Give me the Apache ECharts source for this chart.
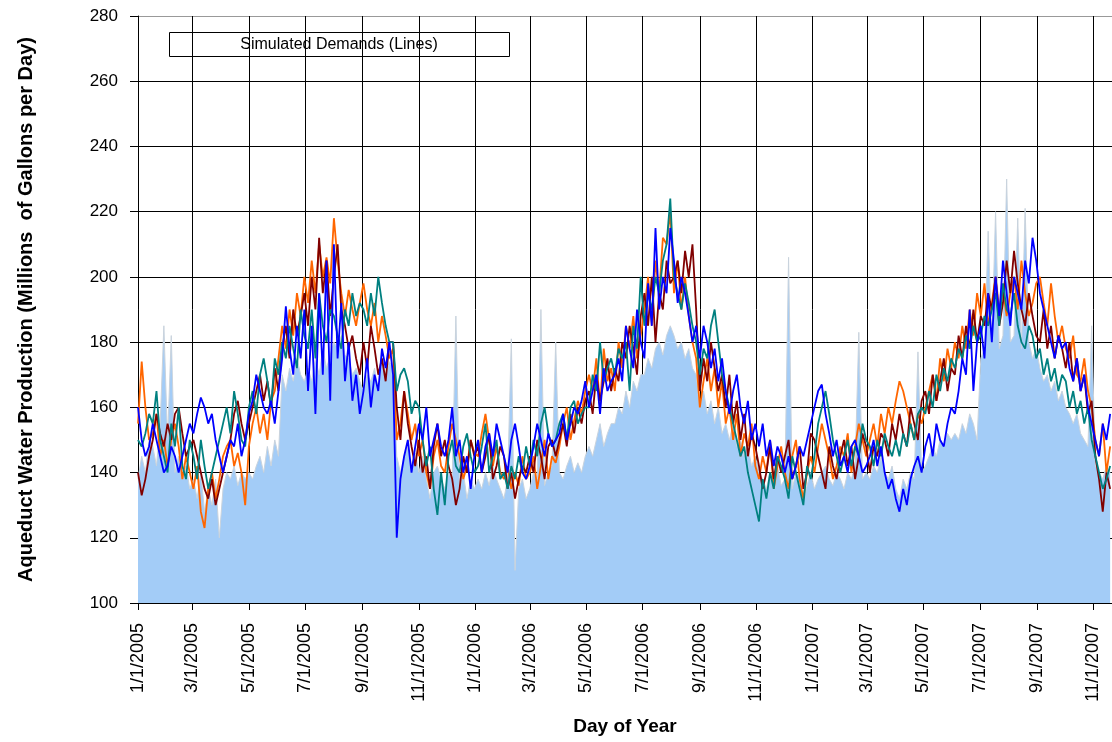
<!DOCTYPE html>
<html><head><meta charset="utf-8">
<script src="https://cdn.jsdelivr.net/npm/echarts@6/dist/echarts.min.js"></script>
<style>html,body{margin:0;padding:0;background:#fff}#c{width:1112px;height:742px}</style>
</head><body><div id="c"></div>
<script>
// daily category axis 1/1/2005 .. 11/21/2007; series sampled every 4 days
const dayCount = 1055;
const step = 4;
const tickLabels = ['1/1/2005','3/1/2005','5/1/2005','7/1/2005','9/1/2005','11/1/2005',
  '1/1/2006','3/1/2006','5/1/2006','7/1/2006','9/1/2006','11/1/2006',
  '1/1/2007','3/1/2007','5/1/2007','7/1/2007','9/1/2007','11/1/2007'];

// Actual production (area)
const actual = [
138,145,140,150,148,142,155,185,
150,182,140,145,138,142,135,
138,132,140,128,135,130,138,120,
135,140,138,142,136,140,138,
140,138,142,145,140,148,142,150,
145,170,165,172,168,175,170,168,
172,168,175,170,178,172,176,
180,178,182,176,175,170,172,168,
165,170,168,172,165,175,170,174,
172,145,140,145,148,142,146,
140,145,138,132,140,142,138,135,
140,138,188,135,140,132,138,135,
138,135,140,136,142,138,135,
132,138,181,110,135,138,132,
135,140,138,190,136,140,142,180,
140,138,142,145,140,143,140,145,
148,145,150,155,148,152,155,
155,160,158,165,160,168,165,170,
170,175,172,178,180,176,182,185,
182,178,180,175,178,172,170,
160,165,158,162,155,160,152,155,
150,155,148,150,145,148,142,145,
140,138,135,140,138,142,136,
138,206,135,140,138,132,136,140,
135,138,140,142,138,136,140,138,
135,140,138,142,183,138,140,
138,142,140,145,140,138,142,
135,132,138,135,140,138,177,140,
142,145,148,145,150,148,152,150,
152,150,155,152,158,155,150,
175,178,214,180,220,178,182,230,
180,182,218,178,221,180,175,178,
172,168,170,165,168,162,165,
160,158,155,158,152,150,148,185,
142,140,138,142,140];

// Simulated demands (lines)
const simOrange = [
155,174,160,150,152,158,145,150,
142,150,155,148,138,145,140,
135,142,128,123,135,140,132,138,
145,148,150,142,146,140,130,
148,155,160,152,158,150,162,165,
175,185,178,190,182,195,188,200,
192,205,195,210,200,206,198,
218,205,195,188,196,190,185,192,
198,190,185,192,180,188,182,175,
178,150,155,165,158,150,155,
145,150,140,135,145,150,142,140,
148,155,150,145,138,142,150,146,
145,152,158,150,142,148,140,
138,142,135,140,136,145,138,
140,145,135,142,150,138,145,143,
148,155,160,150,156,162,158,165,
170,165,175,160,178,168,172,
165,180,172,185,178,188,175,182,
190,200,185,205,195,212,210,220,
195,205,190,200,188,180,175,
160,168,175,165,172,160,168,155,
160,150,158,145,152,148,155,142,
138,145,140,150,135,142,148,
140,135,145,150,138,132,140,145,
140,148,155,150,145,138,142,148,
145,152,140,148,155,150,145,
150,155,148,158,152,160,155,
162,168,165,160,155,150,158,155,
160,165,170,162,175,168,178,172,
180,175,185,178,190,182,195,
188,198,185,192,200,190,196,188,
195,200,190,205,195,188,192,198,
200,192,185,198,188,180,185,
178,175,182,170,168,175,165,160,
150,145,155,140,148];

const simDarkRed = [
140,133,138,145,150,158,152,148,
155,150,158,160,152,145,148,
150,145,140,135,132,138,130,135,
140,145,150,158,162,155,150,
155,160,165,170,162,168,160,172,
165,178,185,175,190,182,188,195,
185,200,190,212,195,205,188,
200,210,190,185,178,182,175,170,
180,172,185,178,170,175,168,180,
180,160,150,165,155,148,142,
150,140,145,135,148,155,145,150,
142,138,130,135,145,140,150,145,
148,140,145,152,138,142,148,
145,135,140,132,138,142,140,
145,140,150,145,138,148,150,145,
150,155,148,158,152,160,155,162,
165,158,170,162,168,175,165,
172,168,180,175,185,178,170,188,
195,185,200,180,195,190,205,198,
200,205,195,208,200,210,190,
165,175,168,180,172,165,170,160,
170,155,162,150,158,145,152,148,
142,135,140,148,138,145,140,
145,150,138,142,148,135,140,152,
150,145,140,135,148,142,138,145,
150,142,148,138,145,152,148,
140,148,145,152,150,145,155,
150,158,152,148,160,155,150,162,
165,158,170,162,168,175,165,172,
170,182,175,185,178,190,180,
188,185,195,190,200,185,192,205,
195,208,198,190,185,195,188,182,
180,190,178,185,175,182,178,
172,180,168,175,165,170,158,162,
145,138,128,140,135];

const simTeal = [
150,148,152,158,155,165,150,145,
140,155,148,160,142,138,150,
145,138,150,142,135,140,145,150,
155,160,152,165,158,150,148,
160,165,158,170,175,168,160,175,
170,180,175,185,178,172,190,182,
178,190,175,195,185,180,190,
188,182,178,190,185,195,188,192,
190,185,195,188,200,192,185,180,
180,165,170,172,168,158,162,
160,150,142,148,135,127,140,130,
145,150,142,140,148,152,145,140,
142,148,155,140,145,150,138,
140,135,142,138,145,140,148,
142,150,145,155,160,152,148,150,
155,158,150,160,162,155,158,160,
160,170,165,180,168,172,175,
170,178,175,180,165,185,178,200,
185,195,190,200,195,205,210,224,
200,195,190,198,192,185,180,
170,178,175,185,190,180,170,165,
160,155,150,145,148,140,135,130,
125,138,132,140,135,145,142,
138,132,145,140,135,130,142,138,
145,155,160,165,158,150,145,140,
145,150,142,148,145,155,150,
148,142,150,145,152,148,145,
150,145,152,148,155,150,158,160,
158,165,160,170,165,172,168,175,
172,178,175,182,178,185,180,
182,188,185,190,195,185,198,190,
188,195,185,180,178,185,182,175,
178,170,175,168,172,165,170,
168,160,165,158,162,155,160,150,
145,140,135,138,142];

const simBlue = [
160,150,145,148,155,150,145,140,
142,148,145,140,145,150,155,
152,158,163,160,155,158,150,145,
140,145,150,148,155,145,150,
158,162,170,165,160,158,162,155,
165,175,191,178,170,185,175,190,
165,185,158,195,170,205,162,
210,175,192,168,180,162,170,158,
165,175,160,170,165,178,172,180,
170,120,138,145,150,140,148,
155,150,160,145,150,155,148,145,
150,160,145,150,140,145,135,145,
150,140,148,152,145,155,150,
145,140,150,155,148,140,138,
142,148,155,150,145,152,148,150,
152,158,150,155,160,158,162,168,
160,165,170,158,172,165,168,
170,175,168,185,178,172,190,180,
175,198,185,215,190,200,195,215,
205,192,200,195,188,180,185,
175,185,180,172,178,168,175,165,
158,165,170,160,155,162,150,155,
148,155,145,150,142,148,145,
140,145,138,142,148,145,150,155,
160,165,167,158,152,145,150,142,
145,140,148,150,145,140,142,
145,150,142,148,140,135,138,
132,128,135,130,138,142,145,140,
148,152,145,155,150,148,155,160,
158,165,175,170,190,165,180,
185,175,195,180,200,188,205,195,
185,200,195,190,205,198,212,205,
195,190,185,180,175,182,178,
180,172,168,175,165,170,160,155,
150,145,155,150,158];

const categories = [];
for (let d = 0; d < dayCount; d++) {
  const dt = new Date(Date.UTC(2005, 0, 1 + d));
  categories.push((dt.getUTCMonth() + 1) + '/' + dt.getUTCDate() + '/' + dt.getUTCFullYear());
}
const tickSet = new Set(tickLabels);
const isTick = (idx, val) => tickSet.has(val);
const toPairs = arr => arr.map((v, i) => [categories[i * step], v]);

const FONT = '"Liberation Sans", Arial, sans-serif';
const lineSeries = (name, data, color) => ({
  name, type: 'line', data: toPairs(data), symbol: 'none', showSymbol: false,
  lineStyle: { color, width: 1.8 }, itemStyle: { color }, silent: true
});

const chart = echarts.init(document.getElementById('c'), null, { renderer: 'canvas' });
chart.setOption({
  animation: false,
  backgroundColor: '#fff',
  grid: { left: 138, right: 0, top: 16, bottom: 139, containLabel: false },
  xAxis: {
    type: 'category', data: categories, boundaryGap: false,
    name: 'Day of Year', nameLocation: 'middle', nameGap: 114,
    nameTextStyle: { fontFamily: FONT, fontSize: 19, fontWeight: 'bold', color: '#000' },
    axisLine: { lineStyle: { color: '#000', width: 1 } },
    axisTick: { interval: isTick, length: 7, lineStyle: { color: '#000' } },
    axisLabel: { interval: isTick, rotate: 90, margin: 20, fontFamily: FONT, fontSize: 18, color: '#000' },
    splitLine: { show: true, interval: isTick, lineStyle: { color: '#000', width: 1 } }
  },
  yAxis: {
    type: 'value', min: 100, max: 280, interval: 20,
    name: 'Aqueduct Water Production (Millions  of Gallons per Day)', nameLocation: 'middle', nameGap: 102,
    nameTextStyle: { fontFamily: FONT, fontSize: 20, fontWeight: 'bold', color: '#000' },
    axisLine: { show: true, lineStyle: { color: '#000', width: 1 } },
    axisTick: { show: true, length: 8, lineStyle: { color: '#000' } },
    axisLabel: { margin: 20, fontFamily: FONT, fontSize: 17, color: '#000' },
    splitLine: { show: true, lineStyle: { color: ['#000','#000','#000','#000','#000','#000','#000','#000','#000','#999'], width: 1 } }
  },
  series: [
    { name: 'Actual Production', type: 'line', data: toPairs(actual), symbol: 'none', showSymbol: false,
      lineStyle: { color: '#C9D3DD', width: 1 }, areaStyle: { color: '#A3CCF7', opacity: 1, origin: 'start' }, silent: true },
    lineSeries('Sim 1', simOrange, '#FF6600'),
    lineSeries('Sim 2', simDarkRed, '#800000'),
    lineSeries('Sim 3', simTeal, '#008080'),
    lineSeries('Sim 4', simBlue, '#0000FF')
  ],
  graphic: [
    { type: 'group', z: 100, children: [
      { type: 'rect', shape: { x: 169.5, y: 32.5, width: 340, height: 24 }, style: { fill: '#fff', stroke: '#000', lineWidth: 1 } },
      { type: 'text', x: 339, y: 45, style: { text: 'Simulated Demands (Lines)', font: '16px ' + FONT, fill: '#000', align: 'center', verticalAlign: 'middle', textAlign: 'center', textVerticalAlign: 'middle' } }
    ]},
    { type: 'group', z: 100, children: [
      { type: 'rect', shape: { x: 538.5, y: 566.5, width: 340, height: 26 }, style: { fill: '#fff', stroke: '#000', lineWidth: 1 } },
      { type: 'text', x: 708, y: 580, style: { text: 'Actual Production (Solid Pattern)', font: '16px ' + FONT, fill: '#000', align: 'center', verticalAlign: 'middle', textAlign: 'center', textVerticalAlign: 'middle' } }
    ]}
  ]
});
</script></body></html>
